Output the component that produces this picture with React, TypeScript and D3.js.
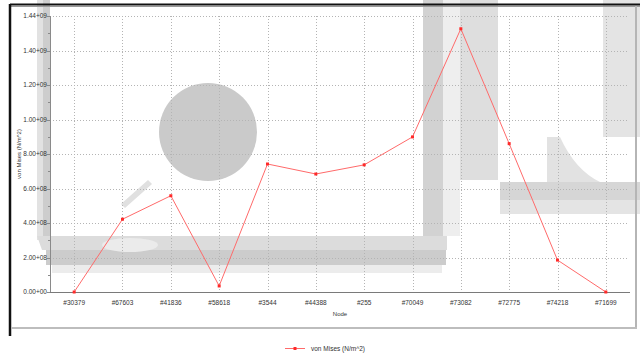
import React from "react";
import * as d3 from "d3";

// Nodes along the probed path and the von Mises stress at each (N/m^2)
const nodes = ["#30379", "#67603", "#41836", "#58618", "#3544", "#44388", "#255", "#70049", "#73082", "#72775", "#74218", "#71699"];
const vonMises = [0, 4.22e8, 5.58e8, 3.5e7, 7.42e8, 6.84e8, 7.37e8, 8.99e8, 1.526e9, 8.6e8, 1.85e8, 0];

const yTickValues = [0, 2e8, 4e8, 6e8, 8e8, 1e9, 1.2e9, 1.4e9, 1.6e9];
const yTickLabels = ["0.00+00", "2.00+08", "4.00+08", "6.00+08", "8.00+08", "1.00+09", "1.20+09", "1.40+09", "1.44+09"];

const W = 640;
const H = 362;
const plot = { left: 50, right: 630, top: 16, bottom: 292 };
const FONT = "'Liberation Sans', Arial, sans-serif";
const LINE = "#ff6a6a";
const MARK = "#ff2a2a";

export default function App() {
  const x = d3.scalePoint<string>().domain(nodes).range([plot.left, plot.right]).padding(0.5);
  const y = d3.scaleLinear().domain([0, 1.6e9]).range([plot.bottom, plot.top]);

  const line = d3
    .line<number>()
    .x((_, i) => x(nodes[i]) as number)
    .y((d) => y(d));

  const minorTicks = d3.range(yTickValues.length - 1).map((i) => (yTickValues[i] + yTickValues[i + 1]) / 2);

  return (
    <svg width={W} height={H} style={{ position: "absolute", left: 0, top: 0, background: "#fff" }} fontFamily={FONT}>
      {/* faint logo behind the chart */}
      <g>
        <rect x={37} y={0} width={6} height={240} fill="#e2e2e2" />
        <rect x={43} y={0} width={7} height={245} fill="#cdcdcd" />
        <path d="M37,236 Q37,236 50,236 L447,236 L447,250 L42,250 Z" fill="#dcdcdc" />
        <rect x={46} y={250} width={400} height={15} fill="#cccccc" />
        <rect x={52} y={265} width={390} height={8} fill="#ececec" />
        <ellipse cx={130} cy={245} rx={28} ry={7} fill="#ebebeb" />
        <circle cx={208} cy={132} r={49} fill="#cacaca" />
        <rect x={423} y={0} width={20} height={236} fill="#d2d2d2" />
        <rect x={443} y={0} width={17} height={236} fill="#eeeeee" />
        <rect x={460} y={0} width={38} height={180} fill="#dedede" />
        <rect x={603} y={0} width={37} height={137} fill="#e4e4e4" />
        <path d="M547,137 L560,137 Q575,170 600,182 L547,182 Z" fill="#e2e2e2" />
        <rect x={500} y={182} width={140} height={18} fill="#d6d6d6" />
        <rect x={500} y={200} width={140} height={14} fill="#e4e4e4" />
        <path d="M121,204 L148,180 L152,184 L125,208 Z" fill="#e0e0e0" />
      </g>

      {/* frame */}
      <line x1={10} x2={640} y1={4.5} y2={4.5} stroke="#111" strokeWidth={2} />
      <line x1={10} x2={640} y1={6.5} y2={6.5} stroke="#999" strokeWidth={1} />
      <line x1={10} x2={10} y1={4} y2={336} stroke="#111" strokeWidth={2.5} />
      <line x1={636} x2={636} y1={6} y2={328} stroke="#b5b5b5" strokeWidth={2} />
      <line x1={11} x2={637} y1={328} y2={328} stroke="#bdbdbd" strokeWidth={2} />

      {/* grid */}
      <g stroke="#b4b4b4" strokeWidth={1} strokeDasharray="1,2">
        {yTickValues.slice(1).map((v) => (
          <line key={"h" + v} x1={plot.left} x2={628} y1={Math.round(y(v)) + 0.5} y2={Math.round(y(v)) + 0.5} />
        ))}
        {nodes.map((n) => (
          <line key={"v" + n} x1={Math.round(x(n) as number) + 0.5} x2={Math.round(x(n) as number) + 0.5} y1={plot.top} y2={plot.bottom} />
        ))}
      </g>

      {/* y axis */}
      <line x1={plot.left + 0.5} x2={plot.left + 0.5} y1={plot.top} y2={plot.bottom} stroke="#8a8a8a" />
      {yTickValues.map((v, i) => (
        <g key={"yt" + v}>
          <line x1={plot.left - 3} x2={plot.left} y1={Math.round(y(v)) + 0.5} y2={Math.round(y(v)) + 0.5} stroke="#8a8a8a" />
          <text x={plot.left - 3} y={y(v) + 2.3} fontSize={6.5} textAnchor="end" fill="#333">
            {yTickLabels[i]}
          </text>
        </g>
      ))}
      {minorTicks.map((v) => (
        <line key={"mt" + v} x1={plot.left - 2} x2={plot.left} y1={Math.round(y(v)) + 0.5} y2={Math.round(y(v)) + 0.5} stroke="#8a8a8a" />
      ))}
      <text transform={`translate(21,${(plot.top + plot.bottom) / 2}) rotate(-90)`} fontSize={6} textAnchor="middle" fill="#333">
        von Mises (N/m^2)
      </text>

      {/* x axis */}
      <line x1={plot.left} x2={plot.right} y1={plot.bottom + 0.5} y2={plot.bottom + 0.5} stroke="#7a7a7a" />
      {nodes.map((n) => (
        <text key={"xl" + n} x={x(n) as number} y={304.5} fontSize={6.5} textAnchor="middle" fill="#333">
          {n}
        </text>
      ))}
      <text x={(plot.left + plot.right) / 2} y={315.5} fontSize={6} textAnchor="middle" fill="#333">
        Node
      </text>

      {/* series */}
      <path d={line(vonMises) ?? ""} fill="none" stroke={LINE} strokeWidth={1} />
      {vonMises.map((v, i) => (
        <rect key={"m" + i} x={(x(nodes[i]) as number) - 1.5} y={y(v) - 1.5} width={3} height={3} fill={MARK} />
      ))}

      {/* legend */}
      <line x1={285} x2={305} y1={348.5} y2={348.5} stroke={LINE} strokeWidth={1} />
      <rect x={293.5} y={347} width={3} height={3} fill={MARK} />
      <text x={311} y={350.5} fontSize={6.5} fill="#333">
        von Mises (N/m^2)
      </text>
    </svg>
  );
}
